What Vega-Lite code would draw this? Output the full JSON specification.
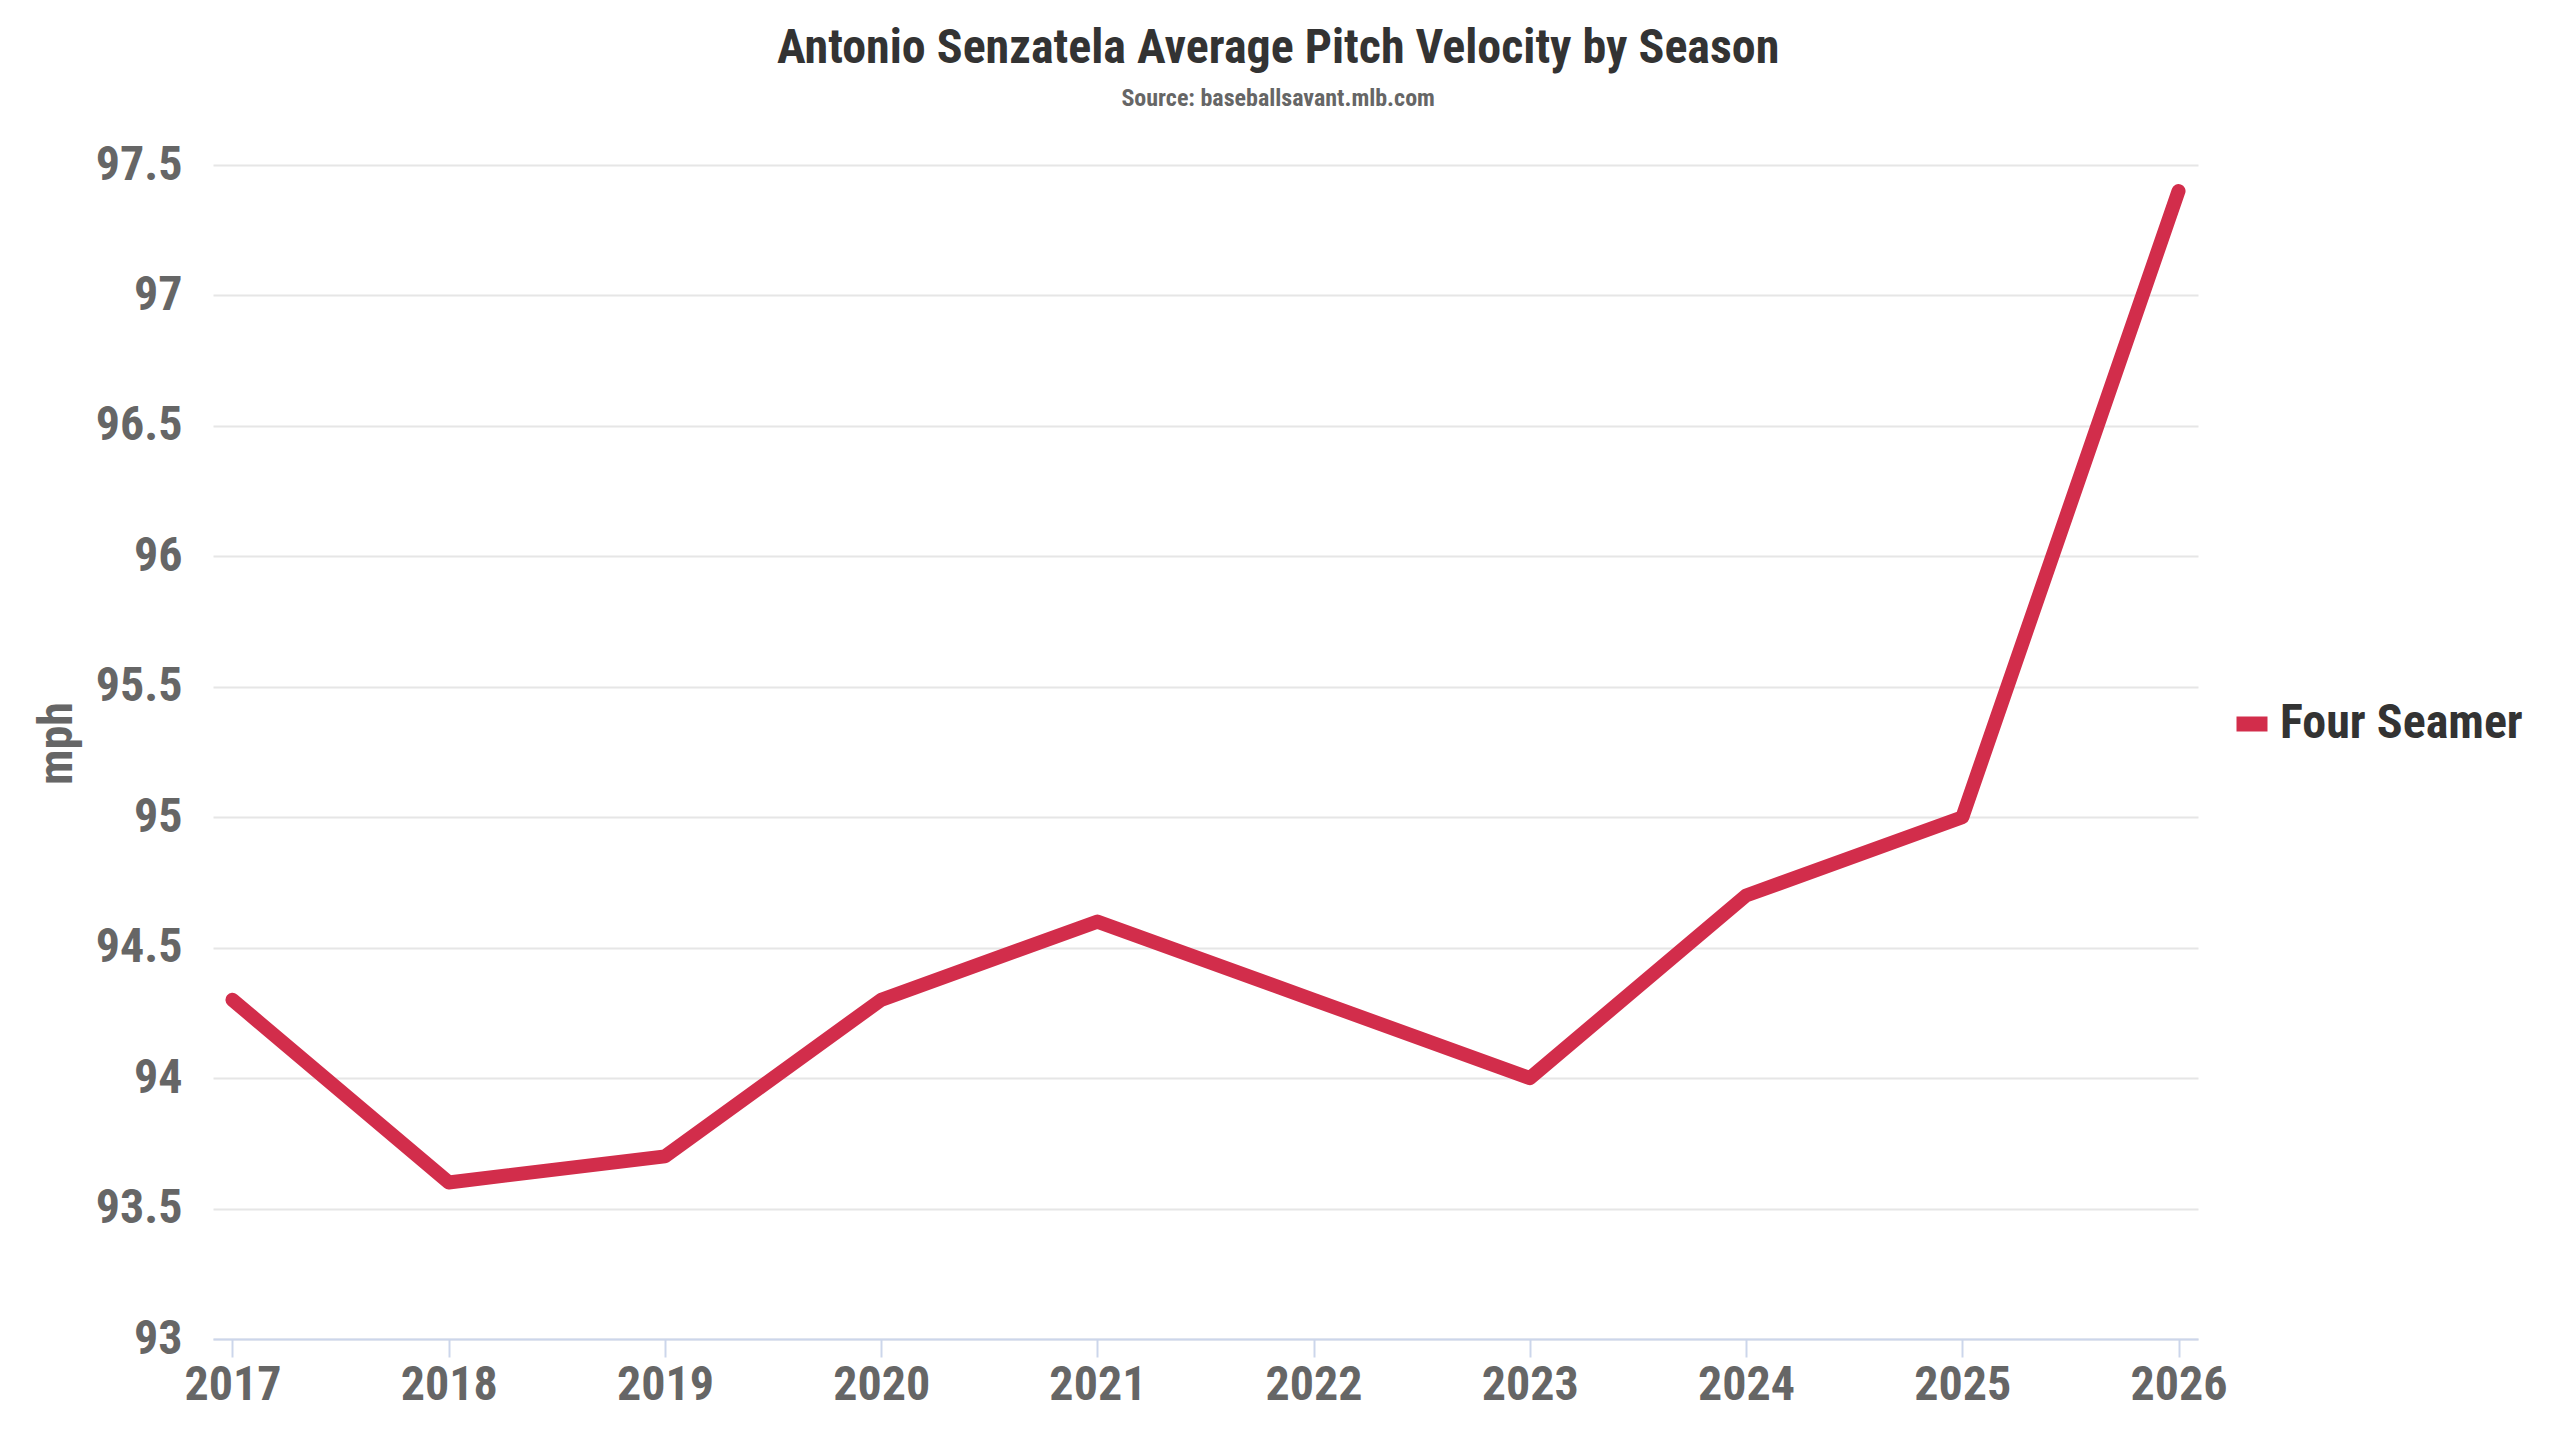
{
  "$schema": "https://vega.github.io/schema/vega-lite/v6.json",
  "autosize": {"type": "none"},
  "width": 1985,
  "height": 1174,
  "padding": {"left": 213, "top": 165, "right": 362, "bottom": 101},
  "background": "#ffffff",
  "config": {"view": {"stroke": null}},
  "title": {
    "text": "Antonio Senzatela Average Pitch Velocity by Season",
    "subtitle": "Source: baseballsavant.mlb.com",
    "anchor": "middle",
    "frame": "bounds",
    "font": "Roboto Condensed, Roboto, sans-serif",
    "fontSize": 48,
    "fontWeight": "bold",
    "color": "#333333",
    "subtitleFont": "Roboto Condensed, Roboto, sans-serif",
    "subtitleFontSize": 24,
    "subtitleFontWeight": "bold",
    "subtitleColor": "#666666",
    "subtitlePadding": 14,
    "offset": 30
  },
  "data": {
    "values": [
      {"season": "2017", "mph": 94.3, "pitch": "Four Seamer"},
      {"season": "2018", "mph": 93.6, "pitch": "Four Seamer"},
      {"season": "2019", "mph": 93.7, "pitch": "Four Seamer"},
      {"season": "2020", "mph": 94.3, "pitch": "Four Seamer"},
      {"season": "2021", "mph": 94.6, "pitch": "Four Seamer"},
      {"season": "2022", "mph": 94.3, "pitch": "Four Seamer"},
      {"season": "2023", "mph": 94.0, "pitch": "Four Seamer"},
      {"season": "2024", "mph": 94.7, "pitch": "Four Seamer"},
      {"season": "2025", "mph": 95.0, "pitch": "Four Seamer"},
      {"season": "2026", "mph": 97.4, "pitch": "Four Seamer"}
    ]
  },
  "mark": {"type": "line", "strokeWidth": 14, "strokeCap": "round", "strokeJoin": "round"},
  "encoding": {
    "x": {
      "field": "season",
      "type": "ordinal",
      "scale": {"type": "point", "padding": 0.09},
      "axis": {
        "title": null,
        "labelAngle": 0,
        "labelFont": "Roboto Condensed, Roboto, sans-serif",
        "labelFontSize": 48,
        "labelFontWeight": "bold",
        "labelColor": "#666666",
        "labelPadding": 4,
        "domainColor": "#ccd6eb",
        "domainWidth": 2,
        "tickColor": "#ccd6eb",
        "tickWidth": 2,
        "tickSize": 18,
        "grid": false
      }
    },
    "y": {
      "field": "mph",
      "type": "quantitative",
      "scale": {"domain": [93, 97.5], "nice": false, "zero": false},
      "axis": {
        "title": "mph",
        "titleFont": "Roboto Condensed, Roboto, sans-serif",
        "titleFontSize": 48,
        "titleFontWeight": "bold",
        "titleColor": "#666666",
        "titlePadding": 14,
        "titleY": 578,
        "values": [93, 93.5, 94, 94.5, 95, 95.5, 96, 96.5, 97, 97.5],
        "format": ".1~f",
        "labelFont": "Roboto Condensed, Roboto, sans-serif",
        "labelFontSize": 48,
        "labelFontWeight": "bold",
        "labelColor": "#666666",
        "labelPadding": 31,
        "ticks": false,
        "tickSize": 0,
        "domain": false,
        "gridColor": "#e6e6e6",
        "gridWidth": 2
      }
    },
    "color": {
      "field": "pitch",
      "type": "nominal",
      "scale": {"range": ["#d22d4b"]},
      "legend": {
        "title": null,
        "orient": "none",
        "legendX": 2015,
        "legendY": 535,
        "symbolType": "stroke",
        "symbolSize": 961,
        "symbolStrokeWidth": 15,
        "labelFont": "Roboto Condensed, Roboto, sans-serif",
        "labelFontSize": 48,
        "labelFontWeight": "bold",
        "labelColor": "#333333",
        "labelOffset": 4,
        "labelLimit": 500
      }
    }
  }
}
